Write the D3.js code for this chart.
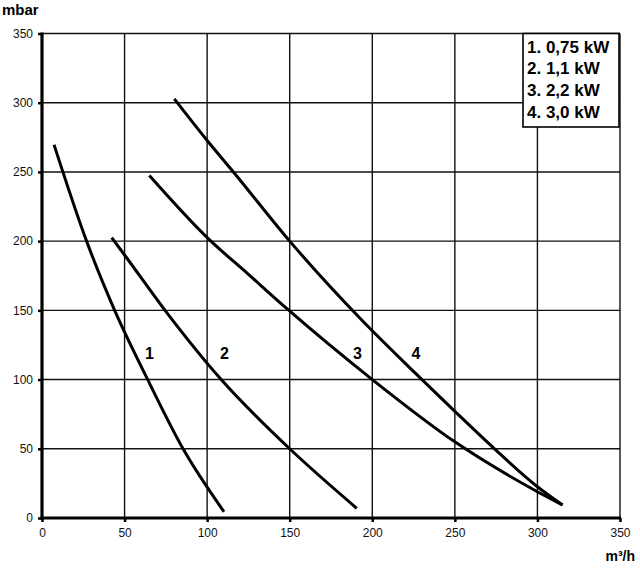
<!DOCTYPE html>
<html><head><meta charset="utf-8">
<script src="https://cdn.jsdelivr.net/npm/d3@7"></script>
<style>body{margin:0;background:#fff}svg{display:block}</style>
</head><body>
<script>
const xTicks = [0, 50, 100, 150, 200, 250, 300, 350];
const yTicks = [0, 50, 100, 150, 200, 250, 300, 350];
const curve1 = [[7.3,269.6],[27,200],[44,150],[64,100],[85.6,49.6],[110.2,4.5]];
const curve2 = [[42.2,202.5],[50,190],[74.5,150],[108.5,100],[150,50],[190.6,7]];
const curve3 = [[65,247.5],[101,201.5],[125,176],[148.5,151],[200,100],[250,55],[300,19],[315.2,9.4]];
const curve4 = [[80.1,302.8],[100,272.7],[115.9,250],[150,200],[193.6,143],[224,107],[250,77],[274,50],[300,22.6],[315.2,9.4]];
const curveLabels = ["1", "2", "3", "4"];
const labelPos = [[65,119],[110.5,119],[191,119],[226.5,119]];
const legendItems = ["1. 0,75 kW", "2. 1,1 kW", "3. 2,2 kW", "4. 3,0 kW"];
const yTitle = "mbar";
const xTitle = "m³/h";

const W = 640, H = 569;
const svg = d3.select("body").append("svg").attr("width", W).attr("height", H)
  .style("font-family", "Arial, 'Liberation Sans', sans-serif");
const x = d3.scaleLinear().domain([0, 350]).range([42, 620]);
const y = d3.scaleLinear().domain([0, 350]).range([518, 33.5]);

// grid
svg.append("g").selectAll("line").data(xTicks.filter(d => d > 0)).join("line")
  .attr("x1", d => x(d)).attr("x2", d => x(d)).attr("y1", y(0)).attr("y2", y(350))
  .attr("stroke", "#111").attr("stroke-width", 1.4);
svg.append("g").selectAll("line").data(yTicks.filter(d => d > 0)).join("line")
  .attr("x1", x(0)).attr("x2", x(350)).attr("y1", d => y(d)).attr("y2", d => y(d))
  .attr("stroke", "#111").attr("stroke-width", 1.4);

// axes
const xAxis = d3.axisBottom(x).tickValues(xTicks).tickSize(4).tickPadding(6);
const yAxis = d3.axisLeft(y).tickValues(yTicks).tickSize(4).tickPadding(5);
const gx = svg.append("g").attr("transform", `translate(0,${y(0)})`).call(xAxis);
const gy = svg.append("g").attr("transform", `translate(${x(0)},0)`).call(yAxis);
[gx, gy].forEach(g => {
  g.select(".domain").remove();
  g.selectAll(".tick line").attr("stroke", "#000").attr("stroke-width", 2.5);
  g.selectAll(".tick text").attr("font-size", 12).attr("fill", "#111")
    .style("font-family", "Arial, 'Liberation Sans', sans-serif");
});
svg.append("line").attr("x1", x(0)).attr("x2", x(0)).attr("y1", y(0) + 1.5).attr("y2", y(350) - 1)
  .attr("stroke", "#000").attr("stroke-width", 3.2);
svg.append("line").attr("x1", x(0) - 1.5).attr("x2", x(350) + 1).attr("y1", y(0)).attr("y2", y(0))
  .attr("stroke", "#000").attr("stroke-width", 3.2);

// curves
const line = d3.line().x(d => x(d[0])).y(d => y(d[1])).curve(d3.curveMonotoneX);
[curve1, curve2, curve3, curve4].forEach(c => {
  svg.append("path").datum(c).attr("d", line).attr("fill", "none")
    .attr("stroke", "#000").attr("stroke-width", 3).attr("stroke-linecap", "butt");
});

// curve labels
svg.append("g").selectAll("text").data(curveLabels).join("text")
  .attr("x", (d, i) => x(labelPos[i][0])).attr("y", (d, i) => y(labelPos[i][1]) + 6)
  .attr("text-anchor", "middle").attr("font-size", 16).attr("font-weight", "bold").text(d => d);

// legend
svg.append("rect").attr("x", 523).attr("y", 33.5).attr("width", 96).attr("height", 93.5)
  .attr("fill", "#fff").attr("stroke", "#000").attr("stroke-width", 1.6);
svg.append("g").selectAll("text").data(legendItems).join("text")
  .attr("x", 527).attr("y", (d, i) => 52.5 + i * 21.8)
  .attr("font-size", 17).attr("font-weight", "bold").text(d => d);

// titles
svg.append("text").attr("x", 2).attr("y", 15).attr("font-size", 15).attr("font-weight", "bold").text(yTitle);
svg.append("text").attr("x", 635).attr("y", 561).attr("text-anchor", "end")
  .attr("font-size", 14).attr("font-weight", "bold").text(xTitle);
</script>
</body></html>
